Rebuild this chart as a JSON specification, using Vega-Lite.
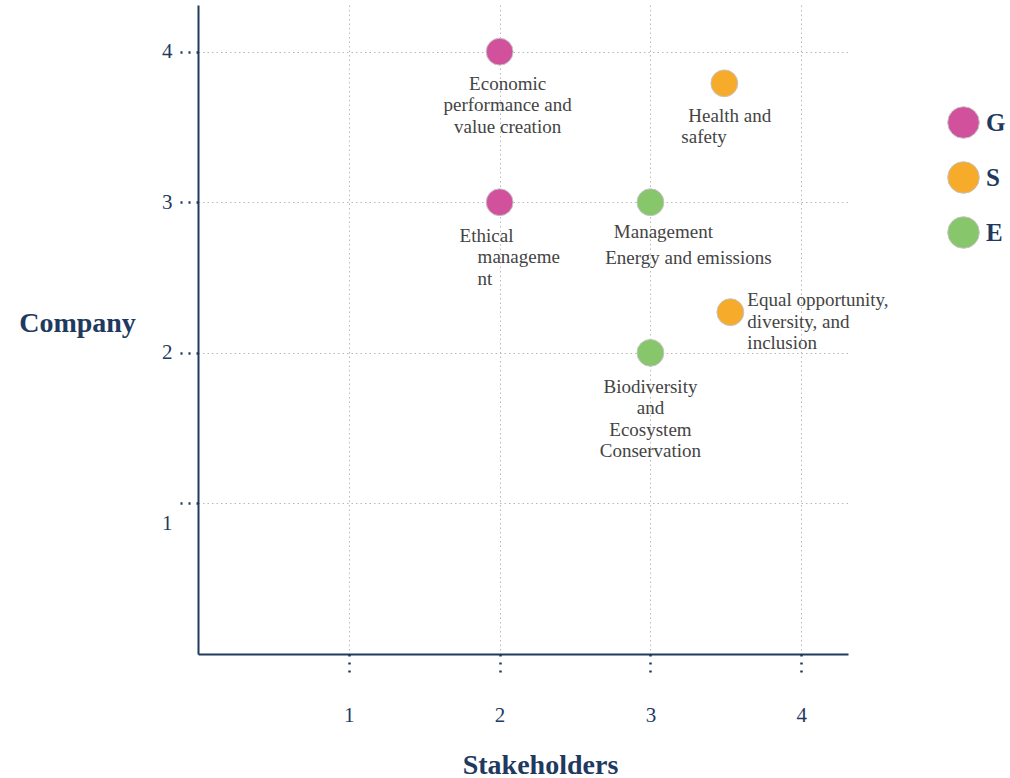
{
  "$schema": "https://vega.github.io/schema/vega-lite/v6.json",
  "autosize": "none",
  "width": 650,
  "height": 649,
  "padding": {"left": 198, "top": 5, "right": 162, "bottom": 124},
  "background": "white",
  "config": {
    "view": {"stroke": null},
    "font": "Liberation Serif",
    "axis": {
      "domainColor": "#1f3a5f",
      "domainWidth": 2,
      "tickColor": "#1f3a5f",
      "tickWidth": 2.5,
      "tickDash": [2, 6],
      "tickSize": 22,
      "labelFont": "Liberation Serif",
      "labelFontSize": 21,
      "labelColor": "#1f3a5f",
      "grid": true,
      "gridColor": "#b8b8b8",
      "gridDash": [1.5, 3],
      "gridWidth": 1,
      "titleFont": "Liberation Serif",
      "titleFontSize": 28,
      "titleFontWeight": "bold",
      "titleColor": "#1f3a5f"
    }
  },
  "data": {
    "values": [
      {"topic": "Economic performance and value creation", "group": "G", "stakeholders": 2, "company": 4, "label": ["Economic", "performance and", "value creation"]},
      {"topic": "Health and safety", "group": "S", "stakeholders": 3.49, "company": 3.79, "label": ["Health and"], "label2": ["safety"]},
      {"topic": "Ethical management", "group": "G", "stakeholders": 2, "company": 3, "label": ["Ethical"], "label2": ["manageme", "nt"]},
      {"topic": "Management Energy and emissions", "group": "E", "stakeholders": 3, "company": 3, "label": ["Management"], "label2": ["Energy and emissions"]},
      {"topic": "Equal opportunity, diversity, and inclusion", "group": "S", "stakeholders": 3.53, "company": 2.27, "label": ["Equal opportunity,", "diversity, and", "inclusion"]},
      {"topic": "Biodiversity and Ecosystem Conservation", "group": "E", "stakeholders": 3, "company": 2, "label": ["Biodiversity", "and", "Ecosystem", "Conservation"]}
    ]
  },
  "encoding": {
    "x": {
      "field": "stakeholders", "type": "quantitative",
      "scale": {"domain": [0, 4.31], "nice": false, "zero": false},
      "axis": {
        "values": [1, 2, 3, 4], "format": "d", "title": "Stakeholders",
        "labelPadding": 28, "labelBaseline": "top",
        "titleX": 342, "titleY": 111, "titleBaseline": "middle", "titleAlign": "center"
      }
    },
    "y": {
      "field": "company", "type": "quantitative",
      "scale": {"domain": [0, 4.31], "nice": false, "zero": false},
      "axis": {
        "values": [1, 2, 3, 4], "format": "d", "title": "Company",
        "labelPadding": 4,
        "labelOffset": {"condition": {"test": "datum.value == 1", "value": 20}, "value": 0},
        "titleAngle": 0, "titleX": -121, "titleY": 318, "titleBaseline": "middle", "titleAlign": "center"
      }
    }
  },
  "layer": [
    {
      "mark": {"type": "circle", "size": 720, "opacity": 1, "stroke": "#c4c4c4", "strokeWidth": 1},
      "encoding": {
        "color": {
          "field": "group", "type": "nominal",
          "scale": {"domain": ["G", "S", "E"], "range": ["#d1519c", "#f6ab2a", "#88c66b"]},
          "legend": {
            "title": null, "orient": "none", "legendX": 749, "legendY": 101,
            "symbolType": "circle", "symbolSize": 1000, "symbolStrokeColor": "#c4c4c4", "symbolStrokeWidth": 1,
            "symbolOpacity": 1,
            "labelFont": "Liberation Serif", "labelFontSize": 25, "labelFontWeight": "bold",
            "labelColor": "#1f3a5f", "labelOffset": 6, "rowPadding": 18, "padding": 0
          }
        }
      }
    },
    {
      "transform": [{"filter": "datum.topic == 'Economic performance and value creation'"}],
      "mark": {"type": "text", "align": "center", "baseline": "top", "dx": 8, "dy": 23, "fontSize": 19, "lineHeight": 21.5, "color": "#444444"},
      "encoding": {"text": {"field": "label"}}
    },
    {
      "transform": [{"filter": "datum.topic == 'Health and safety'"}],
      "mark": {"type": "text", "align": "left", "baseline": "top", "dx": -36, "dy": 24, "fontSize": 19, "lineHeight": 21.5, "color": "#444444"},
      "encoding": {"text": {"field": "label"}}
    },
    {
      "transform": [{"filter": "datum.topic == 'Health and safety'"}],
      "mark": {"type": "text", "align": "left", "baseline": "top", "dx": -43, "dy": 45, "fontSize": 19, "lineHeight": 21.5, "color": "#444444"},
      "encoding": {"text": {"field": "label2"}}
    },
    {
      "transform": [{"filter": "datum.topic == 'Ethical management'"}],
      "mark": {"type": "text", "align": "left", "baseline": "top", "dx": -40, "dy": 25, "fontSize": 19, "lineHeight": 21.5, "color": "#444444"},
      "encoding": {"text": {"field": "label"}}
    },
    {
      "transform": [{"filter": "datum.topic == 'Ethical management'"}],
      "mark": {"type": "text", "align": "left", "baseline": "top", "dx": -22, "dy": 46, "fontSize": 19, "lineHeight": 21.5, "color": "#444444"},
      "encoding": {"text": {"field": "label2"}}
    },
    {
      "transform": [{"filter": "datum.topic == 'Management Energy and emissions'"}],
      "mark": {"type": "text", "align": "center", "baseline": "top", "dx": 13, "dy": 21, "fontSize": 19, "lineHeight": 21.5, "color": "#444444"},
      "encoding": {"text": {"field": "label"}}
    },
    {
      "transform": [{"filter": "datum.topic == 'Management Energy and emissions'"}],
      "mark": {"type": "text", "align": "center", "baseline": "top", "dx": 38, "dy": 47, "fontSize": 19, "lineHeight": 21.5, "color": "#444444"},
      "encoding": {"text": {"field": "label2"}}
    },
    {
      "transform": [{"filter": "datum.topic == 'Equal opportunity, diversity, and inclusion'"}],
      "mark": {"type": "text", "align": "left", "baseline": "top", "dx": 17, "dy": -21, "fontSize": 19, "lineHeight": 21.5, "color": "#444444"},
      "encoding": {"text": {"field": "label"}}
    },
    {
      "transform": [{"filter": "datum.topic == 'Biodiversity and Ecosystem Conservation'"}],
      "mark": {"type": "text", "align": "center", "baseline": "top", "dx": 0, "dy": 25, "fontSize": 19, "lineHeight": 21.5, "color": "#444444"},
      "encoding": {"text": {"field": "label"}}
    }
  ]
}
